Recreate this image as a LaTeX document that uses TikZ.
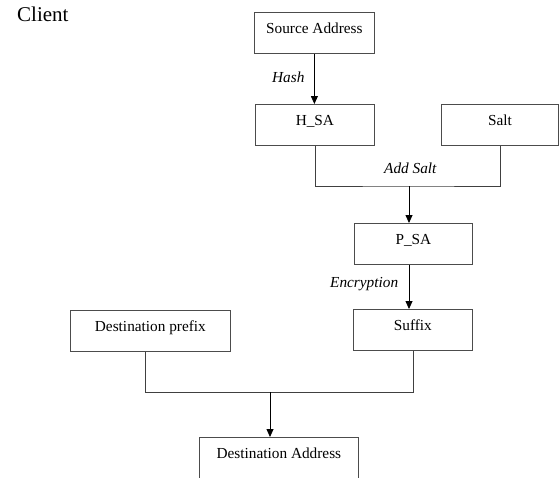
\documentclass[tikz,border=0pt]{standalone}
\usepackage{fontspec}
\setmainfont{Liberation Serif}
\usetikzlibrary{arrows.meta}
\tikzset{
  boxnode/.style={draw=black!70, line width=0.8pt, rectangle, anchor=north west,
    inner xsep=0pt, inner ysep=0pt, text height=21pt, text depth=20pt,
    font=\fontsize{15.3}{18}\selectfont, align=center},
  lbl/.style={inner sep=0pt, anchor=base west, font=\fontsize{15.3}{18}\selectfont\itshape},
  conn/.style={draw=black!75, line width=0.8pt},
  arr/.style={draw=black, line width=0.8pt, -{Triangle[length=8pt,width=7pt]}}
}
\begin{document}
\begin{tikzpicture}[x=1pt,y=-1pt]
\clip (0,0) rectangle (560,477);
\fill[white] (0,0) rectangle (560,477);
\node[inner sep=0pt, anchor=base west, font=\fontsize{21}{24}\selectfont] (client) at (17,21) {Client};
\node[boxnode, minimum width=120pt] (src) at (254,12) {Source Address};
\node[boxnode, minimum width=119pt] (hsa) at (255,104) {H\_SA};
\node[boxnode, minimum width=117pt] (salt) at (441,104) {Salt};
\node[boxnode, minimum width=118pt] (psa) at (354,223) {P\_SA};
\node[boxnode, minimum width=119pt] (suffix) at (353,309) {Suffix};
\node[boxnode, minimum width=160pt] (prefix) at (70,310) {Destination prefix};
\node[boxnode, minimum width=159pt] (dest) at (199,437) {Destination Address};
\node[lbl] (hash) at (272,82) {Hash};
\node[lbl] (addsalt) at (384,173) {Add Salt};
\node[lbl] (enc) at (330,287) {Encryption};
\coordinate (j1) at (409,186);
\coordinate (j2) at (270,392);
\draw[arr] (src.south) -- (src.south |- hsa.north);
\draw[conn] (hsa.south) |- (j1) -| (salt.south);
\draw[arr] (j1) -- (j1 |- psa.north);
\draw[arr] (j1 |- psa.south) -- (j1 |- suffix.north);
\draw[conn] ([xshift=-5pt]prefix.south) |- (j2);
\draw[conn] (suffix.south) |- (j2);
\draw[arr] (j2) -- (j2 |- dest.north);
\end{tikzpicture}
\end{document}
